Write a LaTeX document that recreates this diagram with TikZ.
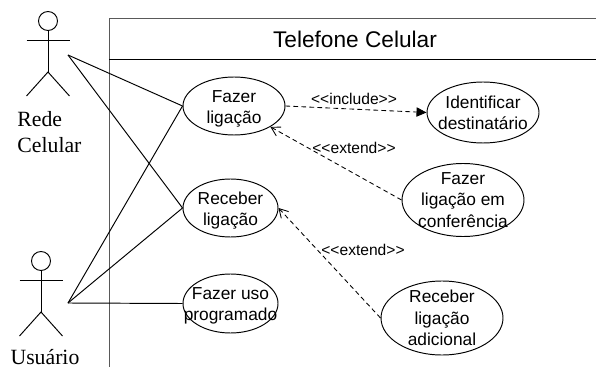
\documentclass[tikz,border=0pt]{standalone}
\usepackage{fontspec}
\setmainfont{Liberation Sans}
\newfontfamily\actorfont{Liberation Serif}
\usetikzlibrary{shapes.geometric, arrows.meta, positioning}

\tikzset{
    usecase/.style 2 args={ellipse, draw, inner sep=0pt, minimum width=#1, minimum height=#2},
    casetext/.style={align=center, inner sep=0pt, font=\fontsize{13}{16}\selectfont},
    stereotype/.style={inner sep=0pt, font=\fontsize{11.7}{14}\selectfont},
    actorname/.style={inner sep=0pt, align=left, font=\actorfont\fontsize{16.3}{19.5}\selectfont},
    dep/.style={line width=0.65pt, dash pattern=on 3.5pt off 2.5pt},
    opentip/.style={-{Straight Barb[length=6.5pt, width=7.5pt]}},
    filledtip/.style={-{Triangle[length=7.5pt, width=7pt]}},
}

\begin{document}
\begin{tikzpicture}[x=0.75pt, y=-0.75pt, line width=0.72pt]
\useasboundingbox (0,0) rectangle (596,367);
% System boundary
\coordinate (boxbottom) at (109,367);
\coordinate (boxcorner) at (109,18);
\coordinate (boxright) at (596,18);
\coordinate (titleleft) at (109,59);
\coordinate (titleright) at (596,59);
\draw[black!65] (boxbottom) -- (boxcorner) -- (boxright);
\draw (titleleft) -- (titleright);
\node[inner sep=0pt, font=\fontsize{17}{20}\selectfont] (title) at (355,39) {Telefone Celular};

% Actors
\foreach \name/\x/\y in {rede/48/21, usuario/41/261} {
    \node[circle, draw, inner sep=0pt, minimum size=14.25pt] (\name head) at (\x,\y) {};
    \coordinate (\name hip) at (\x,\y+51);
    \coordinate (\name armL) at (\x-21.5,\y+19);
    \coordinate (\name armR) at (\x+21.5,\y+19);
    \coordinate (\name footL) at (\x-21.5,\y+75);
    \coordinate (\name footR) at (\x+21.5,\y+75);
    \draw (\name head) -- (\name hip);
    \draw (\name armL) -- (\name armR);
    \draw (\name footL) -- (\name hip) -- (\name footR);
}
\node[actorname, anchor=north west] (redename) at (17,110.5) {Rede\\Celular};
\node[actorname] (usuarioname) at (45,357.5) {Usuário};
\coordinate (redehand) at (68,55);
\coordinate (usuariohand) at (68,303);

% Use cases
\node[usecase={76.5pt}{43.5pt}, label={[casetext, yshift=-2pt]center:Fazer\\ligação}] (fazer) at (234,106) {};
\node[usecase={71.25pt}{43.5pt}, label={[casetext, yshift=-2pt]center:Receber\\ligação}] (receber) at (230.5,208) {};
\node[usecase={71.25pt}{44.25pt}, label={[casetext, yshift=-2pt]center:Fazer uso\\programado}] (uso) at (230.5,303.5) {};
\node[usecase={84pt}{45.75pt}, label={[casetext]center:Identificar\\destinatário}] (identificar) at (483,112.5) {};
\node[usecase={91.5pt}{54.75pt}, label={[casetext]center:Fazer\\ligação em\\conferência}] (conferencia) at (463,200) {};
\node[usecase={91.5pt}{55.5pt}, label={[casetext]center:Receber\\ligação\\adicional}] (adicional) at (442,318) {};

% Associations
\draw (redehand) -- (fazer.west);
\draw (redehand) -- (receber.west);
\draw (usuariohand) -- (fazer.west);
\draw (usuariohand) -- (receber.west);
\draw (usuariohand) -- (uso.west);

% Dependencies
\draw[dep, filledtip] (fazer.east) -- (identificar.west);
\draw[dep, opentip] (conferencia.west) -- (fazer.south east);
\draw[dep, opentip] (adicional.west) -- (receber.east);
\node[stereotype] (includelabel) at (354,99) {{<}{<}include{>}{>}};
\node[stereotype] (extendlabel) at (354,148) {{<}{<}extend{>}{>}};
\node[stereotype] (extendlabelb) at (363,250) {{<}{<}extend{>}{>}};
\end{tikzpicture}
\end{document}
